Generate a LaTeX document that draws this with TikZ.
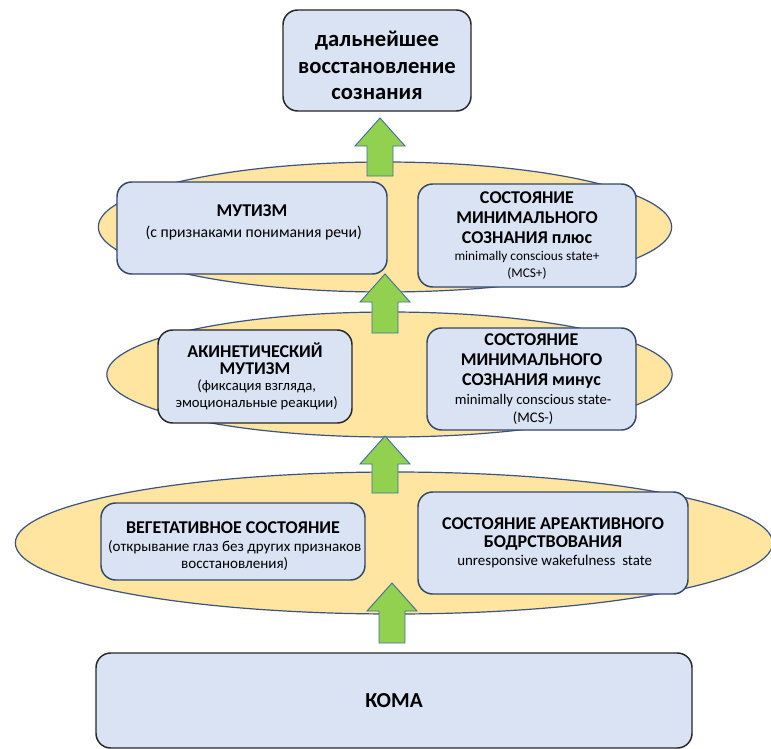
\documentclass[tikz,border=0pt]{standalone}
\usepackage{fontspec}
\setmainfont{Carlito}
\usetikzlibrary{shapes.geometric}
\definecolor{boxfill}{HTML}{DAE3F3}
\definecolor{boxline}{HTML}{34466A}
\definecolor{ovalfill}{HTML}{FFE5A0}
\definecolor{ovalline}{HTML}{3B5380}
\definecolor{arrowgreen}{HTML}{92D050}
\definecolor{arrowline}{HTML}{41719C}
\newcommand\headline{\fontsize{13.5}{13}\selectfont\bfseries}
\newcommand\subline[1][10]{\fontsize{#1}{12}\selectfont}

\begin{document}
\begin{tikzpicture}[x=0.75pt,y=-0.75pt,
    stage/.style={draw=boxline,fill=boxfill,rounded corners=11pt,line width=1.1pt,
      align=center,inner sep=2pt},
    darkstage/.style={stage,draw=black!85},
    oval/.style={ellipse,draw=ovalline,fill=ovalfill,line width=0.9pt,inner sep=0pt},
    pics/growth/.style={code={
      \filldraw[fill=arrowgreen,draw=arrowline,line width=0.7pt]
        (0,0) -- (25,28) -- (13,28) -- (13,#1) -- (-13,#1) -- (-13,28) -- (-25,28) -- cycle;}}]
  \useasboundingbox (0,0) rectangle (771,749);

  % ovals behind the boxes
  \node[oval,minimum width=568pt,minimum height=106.5pt] (lvlA) at (394,543) {};
  \node[oval,minimum width=424pt,minimum height=93.75pt] (lvlB) at (389.5,374.5) {};
  \node[oval,minimum width=430pt,minimum height=97.5pt] (lvlC) at (385,227) {};

  % top
  \node[darkstage,minimum width=141pt,minimum height=75.75pt,
    font=\fontsize{17}{20}\selectfont\bfseries] (further) at (377,60.5)
    {\mbox{}\\[-1pt]дальнейшее\\восстановление\\сознания};

  % level C
  \node[stage,minimum width=202.5pt,minimum height=69pt,
    font=\fontsize{10}{15.5}\selectfont] (mutism) at (252,228)
    {{\headline МУТИЗМ}\\
     {\subline[11.8] (с признаками понимания речи)}\\[-5pt]};
  \node[stage,minimum width=163.5pt,minimum height=77.25pt,
    font=\fontsize{10}{15}\selectfont] (mcsplus) at (527,235.5)
    {{\headline СОСТОЯНИЕ}\\
     {\headline МИНИМАЛЬНОГО}\\
     {\headline СОЗНАНИЯ плюс}\\[-2pt]
     {\subline minimally conscious state+}\\[-2.5pt]
     {\subline (MCS+)}};

  % level B
  \node[darkstage,minimum width=145.5pt,minimum height=69.75pt,
    font=\fontsize{10}{12.5}\selectfont] (akinetic) at (255,376.5)
    {{\headline АКИНЕТИЧЕСКИЙ}\\
     {\headline МУТИЗМ}\\
     {\subline[11] (фиксация взгляда,}\\
     {\subline[11] эмоциональные реакции)}};
  \node[stage,minimum width=156.75pt,minimum height=76.5pt,
    font=\fontsize{10}{15}\selectfont] (mcsminus) at (531.5,379)
    {{\headline СОСТОЯНИЕ}\\
     {\headline МИНИМАЛЬНОГО}\\
     {\headline СОЗНАНИЯ минус}\\[-1pt]
     {\subline[11] minimally conscious state-}\\[-1.5pt]
     {\subline[11] (MCS-)}};

  % level A
  \node[stage,minimum width=198pt,minimum height=57.75pt,
    font=\fontsize{10}{12.5}\selectfont] (vegetative) at (233,541.5)
    {\mbox{}\\[3pt]
     {\headline ВЕГЕТАТИВНОЕ СОСТОЯНИЕ}\\[1.5pt]
     {\subline[11.3] (открывание глаз без других признаков}\\
     {\subline[11.3] восстановления)}};
  \node[stage,minimum width=202.5pt,minimum height=76.5pt,
    font=\fontsize{10}{13.5}\selectfont] (unresponsive) at (553,543)
    {{\headline СОСТОЯНИЕ АРЕАКТИВНОГО}\\
     {\headline БОДРСТВОВАНИЯ}\\
     {\subline[11.2] unresponsive wakefulness\ \ state}};

  % bottom
  \node[darkstage,minimum width=447pt,minimum height=71.25pt,
    font=\fontsize{16}{19}\selectfont\bfseries] (coma) at (394,700.5) {КОМА};

  % green arrows
  \path (380,118) pic {growth=58};
  \path (385,274) pic {growth=59};
  \path (385,436) pic {growth=57};
  \path (392,583) pic {growth=60};
\end{tikzpicture}
\end{document}
